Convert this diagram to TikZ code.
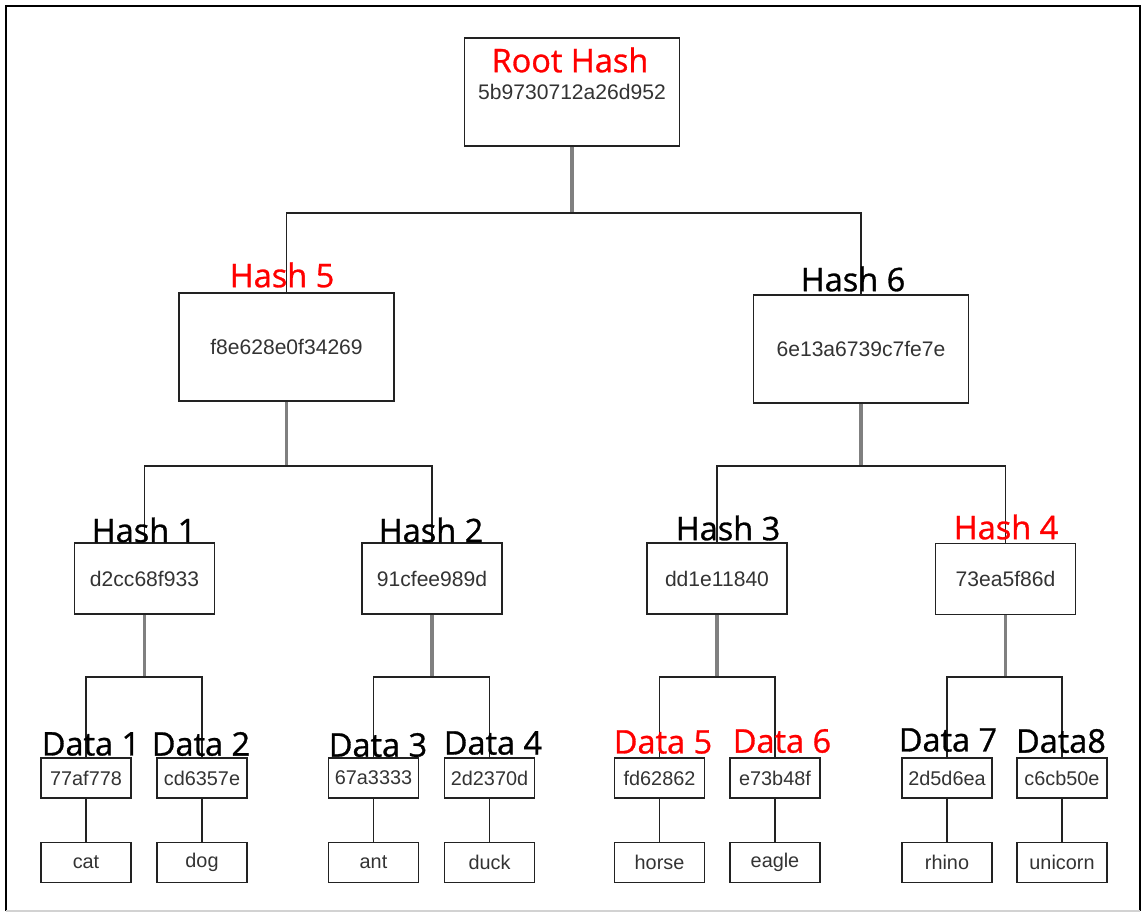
\documentclass[tikz,border=0pt]{standalone}
\usepackage{fontspec}
\setmainfont{Liberation Sans}
\newfontfamily\lblfont[FakeBold=0.9]{Open Sans}
\usetikzlibrary{positioning}

\definecolor{hashred}{RGB}{255,0,0}
\definecolor{boxline}{RGB}{34,34,34}
\definecolor{stemgray}{RGB}{128,128,128}

\begin{document}
\begin{tikzpicture}[
      x=0.02cm, y=-0.02cm,
      bigbox/.style={
        draw=boxline,
        line width=1pt,
        minimum width=4.3cm,
        minimum height=2.16cm,
        inner sep=0pt,
        font=\fontsize{12}{14}\selectfont,
        text=black!80
      },
      midbox/.style={
        bigbox,
        minimum width=2.8cm,
        minimum height=1.42cm
      },
      smallbox/.style={
        bigbox,
        minimum width=1.8cm,
        minimum height=0.8cm,
        font=\fontsize{11.3}{13}\selectfont
      },
      tag/.style={
        inner sep=0pt,
        font=\lblfont\fontsize{18.5}{22}\selectfont
      },
      hot/.style={tag, text=hashred},
      stem/.style={draw=stemgray, line width=1.9pt},
      branch/.style={draw=boxline, line width=1.1pt},
      link/.style={draw=boxline, line width=1.1pt},
      frame/.style={draw=black, line width=1.4pt}
    ]

    \useasboundingbox (0,0) rectangle (1143,914);

    % outer frame
    \draw[frame] (6,911) -- (6,6) -- (1140,6) -- (1140,911);
    \draw[gray!35, line width=0.6pt] (6,911) -- (1140,911);

    % Hash boxes
    \node[bigbox] (root) at (572,92) {5b9730712a26d952};
    \node[bigbox] (h5) at (286.5,347) {f8e628e0f34269};
    \node[bigbox] (h6) at (861,349) {6e13a6739c7fe7e};
    \node[midbox] (h1) at (144.5,578.5) {d2cc68f933};
    \node[midbox] (h2) at (432,578.5) {91cfee989d};
    \node[midbox] (h3) at (717,578.5) {dd1e11840};
    \node[midbox] (h4) at (1005.5,579) {73ea5f86d};

    % Data hash boxes
    \node[smallbox] (d1) at (86,778) {77af778};
    \node[smallbox] (d2) at (202,778) {cd6357e};
    \node[smallbox] (d3) at (373.5,778) {67a3333};
    \node[smallbox] (d4) at (489.5,778) {2d2370d};
    \node[smallbox] (d5) at (659.5,778) {fd62862};
    \node[smallbox] (d6) at (775,778) {e73b48f};
    \node[smallbox] (d7) at (947,778) {2d5d6ea};
    \node[smallbox] (d8) at (1062,778) {c6cb50e};

    % Data blocks
    \node[smallbox] (cat) at (86,862.5) {cat};
    \node[smallbox] (dog) at (202,862.5) {dog};
    \node[smallbox] (ant) at (373.5,862.5) {ant};
    \node[smallbox] (duck) at (489.5,862.5) {duck};
    \node[smallbox] (horse) at (659.5,862.5) {horse};
    \node[smallbox] (eagle) at (775,862.5) {eagle};
    \node[smallbox] (rhino) at (947,862.5) {rhino};
    \node[smallbox] (unicorn) at (1062,862.5) {unicorn};

    % Tree links
    \draw[stem] (root.south) -- ++(0,66) coordinate (j0);
    \draw[stem] (h5.south) -- ++(0,64) coordinate (j5);
    \draw[stem] (h6.south) -- ++(0,62) coordinate (j6);
    \draw[stem] (h1.south) -- ++(0,62) coordinate (j1);
    \draw[stem] (h2.south) -- ++(0,62) coordinate (j2);
    \draw[stem] (h3.south) -- ++(0,62) coordinate (j3);
    \draw[stem] (h4.south) -- ++(0,62) coordinate (j4);

    \draw[branch] (h5.north) |- (j0) -| (h6.north);
    \draw[branch] (h1.north) |- (j5) -| (h2.north);
    \draw[branch] (h3.north) |- (j6) -| (h4.north);
    \draw[branch] (d1.north) |- (j1) -| (d2.north);
    \draw[branch] (d3.north) |- (j2) -| (d4.north);
    \draw[branch] (d5.north) |- (j3) -| (d6.north);
    \draw[branch] (d7.north) |- (j4) -| (d8.north);

    \foreach \a/\b in {d1/cat, d2/dog, d3/ant, d4/duck, d5/horse, d6/eagle, d7/rhino, d8/unicorn}
      \draw[link] (\a) -- (\b);

    % Labels
    \node[hot] (lroot) at (570,60) {Root Hash};
    \node[hot] (l5) at (282,275) {Hash 5};
    \node[tag] (l6) at (853,279) {Hash 6};
    \node[tag] (l1) at (144,530) {Hash 1};
    \node[tag] (l2) at (431,530) {Hash 2};
    \node[tag] (l3) at (728,528) {Hash 3};
    \node[hot] (l4) at (1006,527) {Hash 4};
    \node[tag] (ld1) at (91,744) {Data 1};
    \node[tag] (ld2) at (201,744) {Data 2};
    \node[tag] (ld3) at (378,745) {Data 3};
    \node[tag] (ld4) at (493,743) {Data 4};
    \node[hot] (ld5) at (663,742) {Data 5};
    \node[hot] (ld6) at (782,741) {Data 6};
    \node[tag] (ld7) at (948,740) {Data 7};
    \node[tag] (ld8) at (1061,741) {Data8};

  \end{tikzpicture}
\end{document}
